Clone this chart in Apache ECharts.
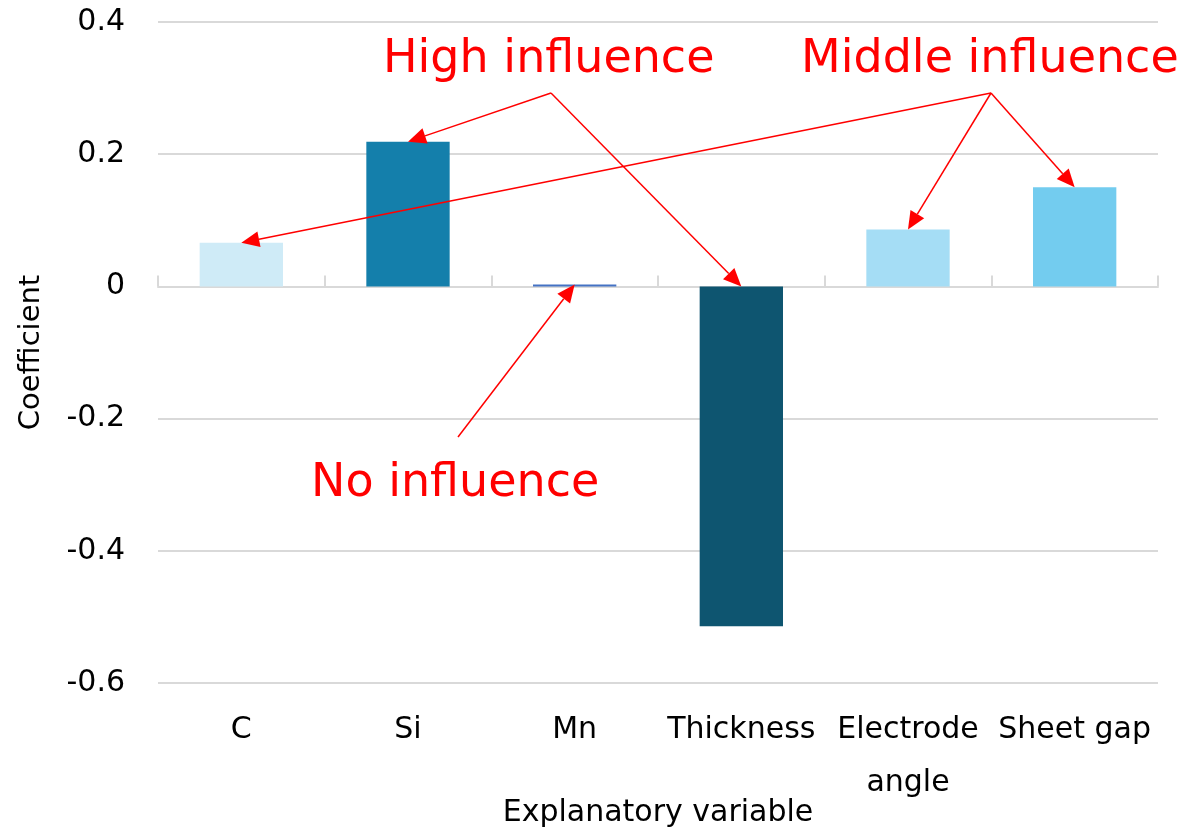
<!DOCTYPE html>
<html>
<head>
<meta charset="utf-8">
<title>Coefficient by explanatory variable</title>
<script src="https://cdn.jsdelivr.net/npm/echarts@6/dist/echarts.min.js"></script>
<style>
  html, body { margin: 0; padding: 0; background: #ffffff; }
  #chart { width: 1183px; height: 828px; }
</style>
</head>
<body>
<div id="chart"></div>
<script>
// Regression coefficients per explanatory variable
const categories = ['C', 'Si', 'Mn', 'Thickness', 'Electrode\nangle', 'Sheet gap'];
const coefficients = [0.066, 0.219, 0.003, -0.514, 0.086, 0.150];
const barColors = ['#CFEBF7', '#147FAB', '#4472C4', '#0E5570', '#A5DDF5', '#73CCEF'];
const yTicks = { min: -0.6, max: 0.4, interval: 0.2 };

// Callouts: text and the categories their arrows point to
const calloutTexts = ['High influence', 'Middle influence', 'No influence'];
const calloutTargets = [[1, 3], [0, 4, 5], [2]];

const FONT = '"DejaVu Sans", Verdana, sans-serif';

const chart = echarts.init(document.getElementById('chart'), null, { renderer: 'canvas' });

const option = {
  animation: false,
  backgroundColor: '#ffffff',
  grid: { left: 158, right: 25, top: 22, bottom: 145, outerBoundsMode: 'none', containLabel: false },
  xAxis: [
    {
      type: 'category',
      data: categories,
      position: 'bottom',
      name: 'Explanatory variable',
      nameLocation: 'middle',
      nameGap: 115,
      nameMoveOverlap: false,
      nameTextStyle: { fontFamily: FONT, fontSize: 30, color: '#000' },
      axisLine: { show: false, onZero: false },
      axisTick: { show: false },
      axisLabel: {
        interval: 0, fontFamily: FONT, fontSize: 30, color: '#000',
        lineHeight: 53, margin: 21
      },
      splitLine: { show: false }
    },
    {
      type: 'category',
      data: categories,
      axisLine: { show: true, onZero: true, lineStyle: { color: '#D9D9D9', width: 2 } },
      axisTick: { show: true, length: 11, lineStyle: { color: '#D9D9D9', width: 2 } },
      axisLabel: { show: false },
      splitLine: { show: false }
    }
  ],
  yAxis: {
    type: 'value',
    min: yTicks.min,
    max: yTicks.max,
    interval: yTicks.interval,
    name: 'Coefficient',
    nameLocation: 'middle',
    nameGap: 112,
    nameMoveOverlap: false,
    nameTextStyle: { fontFamily: FONT, fontSize: 29, color: '#000' },
    axisLine: { show: false },
    axisTick: { show: false },
    axisLabel: { fontFamily: FONT, fontSize: 30, color: '#000', margin: 33 },
    splitLine: { lineStyle: { color: '#D9D9D9', width: 2 } }
  },
  series: [{
    type: 'bar',
    xAxisIndex: 0,
    barWidth: '50%',
    data: coefficients.map((v, i) => ({ value: v, itemStyle: { color: barColors[i] } }))
  }]
};

chart.setOption(option);

// Callout text positions and arrow origins, in pixels
const calloutText = [
  { x: 383, y: 60 },
  { x: 801, y: 60 },
  { x: 311, y: 484 }
];
const calloutOrigin = [[551, 93], [991, 93], [458, 437]];

function arrow(from, to) {
  const dx = to[0] - from[0], dy = to[1] - from[1];
  const len = Math.hypot(dx, dy);
  const ux = dx / len, uy = dy / len;
  const headLen = 18, headHalf = 8;
  const bx = to[0] - ux * headLen, by = to[1] - uy * headLen;
  const px = -uy * headHalf, py = ux * headHalf;
  return [
    {
      type: 'line', z: 100,
      shape: { x1: from[0], y1: from[1], x2: bx, y2: by },
      style: { stroke: '#FF0000', lineWidth: 1.5 }
    },
    {
      type: 'polygon', z: 100,
      shape: { points: [[to[0], to[1]], [bx + px, by + py], [bx - px, by - py]] },
      style: { fill: '#FF0000' }
    }
  ];
}

function drawCallouts() {
  const elements = [];
  calloutTexts.forEach((t, k) => {
    elements.push({
      type: 'text', z: 100,
      x: calloutText[k].x, y: calloutText[k].y,
      style: {
        text: t, fill: '#FF0000', font: '46px ' + FONT,
        textAlign: 'left', textVerticalAlign: 'middle'
      }
    });
    calloutTargets[k].forEach(idx => {
      const tip = chart.convertToPixel({ xAxisIndex: 0, yAxisIndex: 0 },
        [idx, Math.max(coefficients[idx], 0)]);
      elements.push(...arrow(calloutOrigin[k], tip));
    });
  });
  chart.setOption({ graphic: elements });
}

drawCallouts();
</script>
</body>
</html>
